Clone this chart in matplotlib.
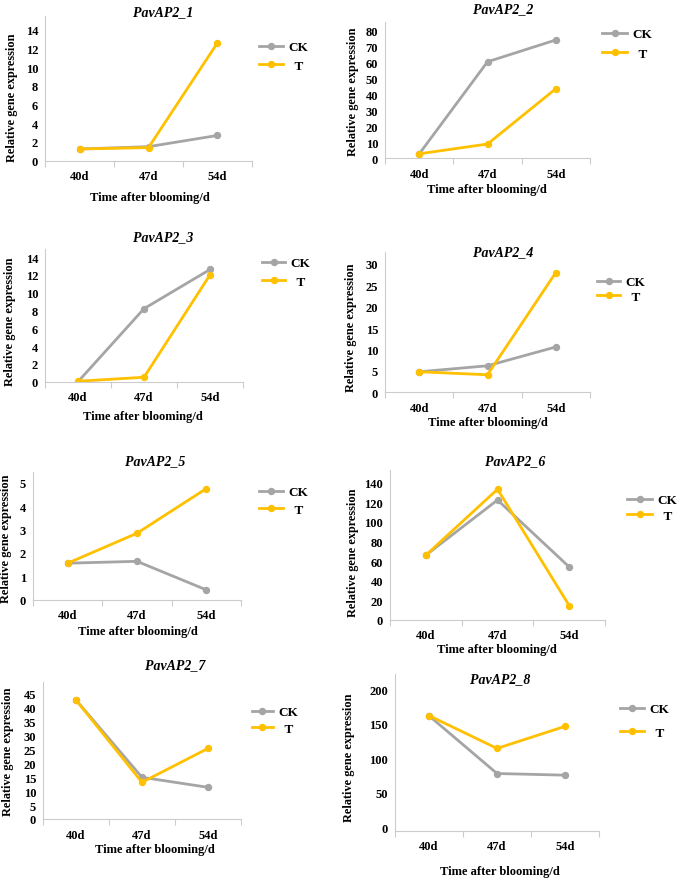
import matplotlib
matplotlib.use("Agg")
import matplotlib.pyplot as plt

plt.rcParams['font.family'] = ['Liberation Serif', 'DejaVu Serif']
plt.rcParams['font.weight'] = 'bold'

days = ['40d', '47d', '54d']
genes = ['PavAP2_1', 'PavAP2_2', 'PavAP2_3', 'PavAP2_4',
         'PavAP2_5', 'PavAP2_6', 'PavAP2_7', 'PavAP2_8']

ck1 = [1.25, 1.5, 2.7]
t1 = [1.25, 1.4, 12.6]
ck2 = [2.7, 60.2, 73.8]
t2 = [2.8, 8.9, 43.4]
ck3 = [0.0, 8.2, 12.6]
t3 = [0.05, 0.5, 12.0]
ck4 = [4.8, 6.2, 10.6]
t4 = [4.8, 4.1, 28.0]
ck5 = [1.56, 1.64, 0.42]
t5 = [1.56, 2.84, 4.75]
ck6 = [66, 122.5, 54]
t6 = [66, 133.5, 14.5]
ck7 = [42.8, 15.0, 11.4]
t7 = [42.8, 13.2, 25.4]
ck8 = [161.8, 78, 75.6]
t8 = [162, 114.4, 146.4]

ck_all = [ck1, ck2, ck3, ck4, ck5, ck6, ck7, ck8]
t_all = [t1, t2, t3, t4, t5, t6, t7, t8]

W, H = 685, 879
fig = plt.figure(figsize=(W / 100, H / 100), dpi=100)

# panel layout in pixels: x0, x1, y of x-axis, y of axis top, ylim, tick step, tick max
layout = [
    (45, 252, 161.7, 17, (0, 15.46), 2, 14),
    (385, 590, 159.3, 23, (0, 85), 10, 80),
    (45, 243, 382.7, 250, (0, 14.9), 2, 14),
    (385, 590, 393.3, 253, (0, 32.8), 5, 30),
    (33, 241, 600.7, 472.7, (0, 5.47), 1, 5),
    (390, 605, 620.7, 470.7, (0, 153.5), 20, 140),
    (43, 241, 820, 682.7, (0, 49.4), 5, 45),
    (395, 599, 831.7, 675, (-5, 222.4), 50, 200),
]
titles_pos = [(163, 13), (503, 10), (163, 238), (503, 253),
              (155, 462), (515, 462), (175, 666), (500, 680)]
xlabel_pos = [(150, 198), (487, 190), (143, 417), (488, 423),
              (138, 632), (497, 650), (155, 850), (500, 872)]
ylabel_pos = [(12, 98), (353, 92), (10, 322), (351, 328),
              (6, 539), (353, 553), (8, 752), (349, 758)]
# legend: handle start x, CK row y, T row y, handle length px
legend_pos = [(259, 48, 67, 24), (602, 35, 55, 25), (262, 264, 283, 23),
              (597, 283, 298, 23), (259, 493, 511, 24), (627, 501, 517, 25),
              (252, 713, 730, 21), (620, 710, 734, 24)]

gray = '#A5A5A5'
gold = '#FFC000'
spine_c = '#CCCCCC'
fs_leg = 9.5
fs_px = fs_leg * 100 / 72

for i in range(8):
    x0, x1, yax, ytop, ylim, step, tmax = layout[i]
    ax = fig.add_axes([x0 / W, 1 - yax / H, (x1 - x0) / W, (yax - ytop) / H])
    xs = range(len(days))
    ax.plot(xs, ck_all[i], color=gray, lw=2.0, marker='o', ms=4.3, label='CK')
    ax.plot(xs, t_all[i], color=gold, lw=2.0, marker='o', ms=4.3, label='  T')
    ax.set_xlim(-0.5, 2.5)
    ax.set_ylim(*ylim)
    ax.set_yticks(range(0, tmax + 1, step))
    ax.set_xticks(list(xs))
    ax.set_xticklabels(days)
    ax.set_xticks([-0.5, 0.5, 1.5, 2.5], minor=True)
    ax.tick_params(axis='x', which='major', length=0, pad=7, labelsize=9)
    ax.tick_params(axis='x', which='minor', length=4, width=0.8, color=spine_c, direction='out')
    ax.tick_params(axis='y', length=0, pad=5, labelsize=9)
    for s in ['top', 'right']:
        ax.spines[s].set_visible(False)
    for s in ['left', 'bottom']:
        ax.spines[s].set_color(spine_c)
        ax.spines[s].set_linewidth(0.8)
    ax.patch.set_alpha(0)

    tx, ty = titles_pos[i]
    fig.text(tx / W, 1 - ty / H, genes[i], ha='center', va='center',
             fontsize=10, fontstyle='italic', fontweight='bold')
    lx, ly = xlabel_pos[i]
    fig.text(lx / W, 1 - ly / H, 'Time after blooming/d', ha='center', va='center',
             fontsize=9, fontweight='bold')
    yx, yy = ylabel_pos[i]
    fig.text(yx / W, 1 - yy / H, 'Relative gene expression', ha='center', va='center',
             rotation=90, fontsize=8.8, fontweight='bold')

    hx, cy, ty2, hl = legend_pos[i]
    spacing = ty2 - cy
    ax.legend(loc='center left', bbox_to_anchor=(hx / W, 1 - (cy + ty2) / 2 / H),
              bbox_transform=fig.transFigure, frameon=False, borderpad=0,
              borderaxespad=0, handlelength=hl / fs_px, handletextpad=0.4,
              labelspacing=max((spacing - 0.95 * fs_px) / fs_px, 0.0),
              prop={'size': fs_leg, 'weight': 'bold'})

fig.savefig('out.png', dpi=100)
